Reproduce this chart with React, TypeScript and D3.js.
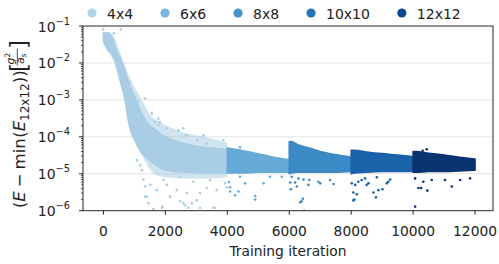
import * as d3 from "d3";
import { useEffect, useRef } from "react";

// grid sizes in the legend, one colour per run
const labels = ["4x4", "6x6", "8x8", "10x10", "12x12"];
const colors = ["#a9cde4", "#68aad7", "#3b89c5", "#1a62a9", "#093472"];
const legendColors = ["#b2d3e8", "#7ab6dd", "#4796ca", "#2473b6", "#0d4a90"];

const xTicks = [0, 2000, 4000, 6000, 8000, 10000, 12000];
const yTicks = [1e-1, 1e-2, 1e-3, 1e-4, 1e-5, 1e-6];
const yTickExp = ["−1", "−2", "−3", "−4", "−5", "−6"];

// dense core of each run: iteration, lower and upper edge of the cloud
const iter4 = [0, 150, 300, 410, 540, 600, 700, 800, 900, 1050, 1200, 1400, 1700, 2000, 2500, 3000, 3500, 4000];
const lo4 = [4.0e-2, 2.2e-2, 1.6e-2, 1.0e-2, 3.5e-3, 2.2e-3, 1.0e-3, 2.8e-4, 1.3e-4, 7e-5, 4e-5, 2.7e-5, 1.7e-5, 1.25e-5, 1.12e-5, 1.07e-5, 1.05e-5, 1.05e-5];
const hi4 = [6.5e-2, 6.5e-2, 4.5e-2, 2.2e-2, 1.4e-2, 1.0e-2, 6e-3, 3.2e-3, 2.0e-3, 1.0e-3, 5e-4, 2.5e-4, 1.5e-4, 1.0e-4, 7e-5, 5.5e-5, 5e-5, 4.5e-5];

// thinner cloud of 4x4 points around the core
const iter4Halo = [0, 300, 600, 900, 1100, 1300, 1500, 1800, 2500, 3000, 3500, 4000];
const lo4Halo = [3e-2, 1.2e-2, 1.8e-3, 1.6e-4, 6e-5, 2.6e-5, 1.3e-5, 8.5e-6, 7.5e-6, 7.5e-6, 7.5e-6, 8e-6];
const hi4Halo = [7e-2, 5.5e-2, 1.4e-2, 3.2e-3, 1.6e-3, 8e-4, 4e-4, 2.6e-4, 1.4e-4, 1.1e-4, 9e-5, 7e-5];

const iter6 = [4000, 4100, 4500, 5000, 5500, 6000];
const lo6 = [1.05e-5, 1.05e-5, 1.05e-5, 1.1e-5, 1.1e-5, 1.1e-5];
const hi6 = [5e-5, 4.8e-5, 4.2e-5, 3.5e-5, 2.8e-5, 2.4e-5];

const iter8 = [6000, 6050, 6300, 6700, 7000, 7500, 8000];
const lo8 = [1.0e-5, 1.05e-5, 1.1e-5, 1.1e-5, 1.1e-5, 1.1e-5, 1.15e-5];
const hi8 = [7.5e-5, 7.5e-5, 6e-5, 4.8e-5, 4e-5, 3.3e-5, 2.8e-5];

const iter10 = [8000, 8100, 8500, 9000, 9500, 10000];
const lo10 = [1.0e-5, 1.05e-5, 1.1e-5, 1.15e-5, 1.15e-5, 1.15e-5];
const hi10 = [4.3e-5, 4.3e-5, 3.9e-5, 3.5e-5, 3.2e-5, 2.9e-5];

const iter12 = [10000, 10100, 10500, 11000, 11500, 12000];
const lo12 = [1.1e-5, 1.1e-5, 1.15e-5, 1.15e-5, 1.2e-5, 1.25e-5];
const hi12 = [4.0e-5, 4.0e-5, 3.6e-5, 3.2e-5, 2.8e-5, 2.5e-5];

// scattered points outside the dense bands: [iteration, value]
const out4 = [
  [-10, 8.1e-2], [335, 6.3e-2], [560, 8.1e-2], [850, 3.1e-3], [1340, 1.1e-3], [1120, 8.9e-4],
  [1660, 2.5e-4], [1820, 2.5e-4], [2035, 1.7e-4], [2575, 1.7e-4], [1560, 4.3e-4], [2420, 1.5e-4],
  [2690, 1.1e-4], [3230, 1.1e-4], [3015, 8.2e-5], [3340, 6.7e-5], [3875, 8.2e-5], [1775, 2.1e-4],
  [1775, 3.1e-4], [2315, 7.4e-5], [2855, 5.4e-5],
  [1615, 1.1e-6], [1905, 1.3e-6], [1453, 1.6e-6], [1400, 2.4e-6], [1290, 7.0e-6], [1345, 4.5e-6],
  [1510, 5.0e-6], [1720, 3.6e-6], [2050, 5.0e-6], [2150, 2.4e-6], [2370, 3.6e-6], [2580, 1.6e-6],
  [2745, 1.2e-6], [2855, 1.6e-6], [3015, 1.9e-6], [3120, 3.0e-6], [2690, 3.0e-6], [3340, 4.1e-6],
  [3605, 1.2e-6], [3660, 3.6e-6], [3445, 6.8e-6], [2905, 6.1e-6], [2475, 8.3e-6], [1940, 6.8e-6],
  [1080, 2.3e-5], [1185, 1.7e-5], [1240, 1.25e-5], [3930, 5.5e-6], [3985, 4.3e-6], [1345, 2.4e-6],
  [2475, 1.8e-6], [2640, 1.4e-6], [3120, 1.2e-6], [3550, 1.2e-6], [1885, 1.2e-6],
];
const out6 = [
  [4090, 3.3e-6], [4250, 2.6e-6], [4360, 3.3e-6], [4900, 2.5e-6], [4900, 2.0e-6], [4575, 5.5e-6],
  [5170, 5.5e-6], [5380, 8.3e-6], [5760, 8.3e-6], [4410, 8.3e-6], [4410, 5.2e-5], [4090, 4.3e-6],
  [4050, 6e-6],
];
const out8 = [
  [6480, 1.0e-6], [6350, 1.7e-6], [6440, 2.1e-6], [6050, 3.8e-6], [6245, 4.5e-6], [6190, 5.8e-6],
  [6030, 5.8e-6], [6620, 5.0e-6], [6650, 6.8e-6], [6460, 7.0e-6], [7000, 5.5e-6], [7430, 5.3e-6],
  [7320, 6.8e-6], [6080, 8.3e-6], [6400, 1.8e-6], [6300, 7.5e-6], [6940, 6.1e-6],
];
const out10 = [
  [8100, 2.0e-6], [8180, 2.8e-6], [8070, 3.1e-6], [8020, 5.5e-6], [8130, 5.0e-6], [8230, 6.1e-6],
  [8340, 6.8e-6], [8720, 3.1e-6], [8800, 2.3e-6], [8880, 3.6e-6], [9010, 3.8e-6], [8560, 5.5e-6],
  [9150, 5.5e-6], [9260, 7.0e-6], [8450, 7.5e-6], [8830, 8.0e-6], [8070, 1.9e-6], [9200, 6.1e-6],
  [8500, 5.0e-6],
];
const out12 = [
  [10065, 1.29e-6], [10460, 3.5e-6], [10170, 4.1e-6], [10260, 4.1e-6], [10330, 6.1e-6], [10600, 6.8e-6],
  [11250, 4.5e-6], [11030, 6.8e-6], [11520, 6.8e-6], [11840, 7.5e-6], [10065, 7.5e-6], [10440, 4.6e-5],
  [10310, 4.2e-5],
];

const FONT = "'DejaVu Sans', sans-serif";

const App = () => {
  const svgRef = useRef<SVGSVGElement>(null);

  useEffect(() => {
    const svg = d3.select(svgRef.current);
    svg.selectAll("*").remove();

    const W = 499;
    const H = 264;
    const margin = { top: 26, right: 6, bottom: 53.3, left: 83 };
    const x = d3.scaleLinear().domain([-660, 12580]).range([margin.left, W - margin.right]);
    const y = d3.scaleLog().domain([1e-6, 1e-1]).range([H - margin.bottom, margin.top]);
    const [x0, x1] = x.range();
    const [y0, y1] = y.range();

    const runs = [
      { iter: iter4, lo: lo4, hi: hi4, out: out4 },
      { iter: iter6, lo: lo6, hi: hi6, out: out6 },
      { iter: iter8, lo: lo8, hi: hi8, out: out8 },
      { iter: iter10, lo: lo10, hi: hi10, out: out10 },
      { iter: iter12, lo: lo12, hi: hi12, out: out12 },
    ];

    svg.append("defs").append("clipPath").attr("id", "plot-clip")
      .append("rect").attr("x", x0).attr("y", y1).attr("width", x1 - x0).attr("height", y0 - y1);

    // gridlines at the decades
    svg.append("g").selectAll("line").data(yTicks.slice(1, -1)).enter().append("line")
      .attr("x1", x0).attr("x2", x1)
      .attr("y1", (d) => y(d)).attr("y2", (d) => y(d))
      .attr("stroke", "#e3e3e3").attr("stroke-width", 1);

    const marks = svg.append("g").attr("clip-path", "url(#plot-clip)");

    const bandPath = (it: number[], lo: number[], hi: number[]) =>
      d3.area<number>()
        .x((i) => x(it[i]))
        .y0((i) => y(lo[i]))
        .y1((i) => y(hi[i]))
        .curve(d3.curveMonotoneX)(d3.range(it.length));

    marks.append("path")
      .attr("d", bandPath(iter4Halo, lo4Halo, hi4Halo))
      .attr("fill", colors[0])
      .attr("opacity", 0.55);

    runs.forEach((run, k) => {
      marks.append("path")
        .attr("d", bandPath(run.iter, run.lo, run.hi))
        .attr("fill", colors[k])
        .attr("stroke", colors[k])
        .attr("stroke-width", 1.6)
        .attr("stroke-linejoin", "round");

      marks.append("g").selectAll("circle").data(run.out).enter().append("circle")
        .attr("cx", (d) => x(d[0]))
        .attr("cy", (d) => y(d[1]))
        .attr("r", 1.3)
        .attr("fill", colors[k]);
    });

    // frame
    svg.append("rect")
      .attr("x", x0).attr("y", y1).attr("width", x1 - x0).attr("height", y0 - y1)
      .attr("fill", "none").attr("stroke", "#262626").attr("stroke-width", 1);

    // x axis
    const gx = svg.append("g");
    gx.selectAll("line").data(xTicks).enter().append("line")
      .attr("x1", (d) => x(d)).attr("x2", (d) => x(d))
      .attr("y1", y0).attr("y2", y0 + 4)
      .attr("stroke", "#262626");
    gx.selectAll("text").data(xTicks).enter().append("text")
      .attr("x", (d) => x(d)).attr("y", y0 + 25.5)
      .attr("text-anchor", "middle")
      .style("font-family", FONT).style("font-size", "13.8px").attr("fill", "#222")
      .text((d) => `${d}`);
    svg.append("text")
      .attr("x", (x0 + x1) / 2).attr("y", 256)
      .attr("text-anchor", "middle")
      .style("font-family", FONT).style("font-size", "13.8px").attr("fill", "#222")
      .text("Training iteration");

    // y axis, major and minor ticks
    const gy = svg.append("g");
    const minor: number[] = [];
    for (let e = -6; e < -1; e++) for (let m = 2; m <= 9; m++) minor.push(m * Math.pow(10, e));
    gy.selectAll("line.minor").data(minor).enter().append("line")
      .attr("class", "minor")
      .attr("x1", x0 - 2).attr("x2", x0)
      .attr("y1", (d) => y(d)).attr("y2", (d) => y(d))
      .attr("stroke", "#262626").attr("stroke-width", 0.8);
    gy.selectAll("line.major").data(yTicks).enter().append("line")
      .attr("class", "major")
      .attr("x1", x0 - 4).attr("x2", x0)
      .attr("y1", (d) => y(d)).attr("y2", (d) => y(d))
      .attr("stroke", "#262626");
    const lab = gy.selectAll("text").data(yTicks).enter().append("text")
      .attr("x", 70).attr("y", (d) => y(d) + 5.5)
      .attr("text-anchor", "end")
      .style("font-family", FONT).style("font-size", "14px").attr("fill", "#222");
    lab.append("tspan").text("10");
    lab.append("tspan").attr("dy", -7).style("font-size", "9.8px").text((d, i) => yTickExp[i]);

    // y label, rotated: main text flows, bracketed unit fraction follows it
    const yl = svg.append("g").style("font-family", FONT).attr("fill", "#222");
    const main = yl.append("text").attr("x", 0).attr("y", 0).style("font-size", "16.5px");
    main.append("tspan").text("(");
    main.append("tspan").style("font-style", "italic").text("E");
    main.append("tspan").attr("dx", 4).text("−");
    main.append("tspan").attr("dx", 4).text("min");
    main.append("tspan").attr("dx", 0.5).text("(");
    main.append("tspan").style("font-style", "italic").text("E");
    main.append("tspan").attr("dy", 3.6).style("font-size", "12px").text("12x12");
    main.append("tspan").attr("dy", -3.6).text("))");
    const len = (main.node() as SVGTextElement).getComputedTextLength();
    const piece = (px: number, py: number, txt: string, size: number, italic = false) =>
      yl.append("text").attr("x", px).attr("y", py)
        .style("font-size", `${size}px`)
        .style("font-style", italic ? "italic" : "normal")
        .text(txt);
    const b = len + 7;
    piece(b, 1.5, "[", 23);
    piece(b + 7.5, -10.8, "g", 11, true);
    piece(b + 14.5, -15, "2", 7.5);
    yl.append("line").attr("x1", b + 6.5).attr("x2", b + 23.5).attr("y1", -7.7).attr("y2", -7.7)
      .attr("stroke", "#222").attr("stroke-width", 0.8);
    piece(b + 8, -1, "a", 11, true);
    piece(b + 14.5, 1, "s", 7.5, true);
    piece(b + 23, 1.5, "]", 23);
    const total = b + 27;
    yl.attr("transform", `translate(25,${126.5 + total / 2}) rotate(-90)`);

    // legend
    const lg = svg.append("g");
    let lx = 92;
    labels.forEach((name, k) => {
      lg.append("circle").attr("cx", lx).attr("cy", 13).attr("r", 4.6).attr("fill", legendColors[k]);
      const t = lg.append("text").attr("x", lx + 15).attr("y", 18.5)
        .style("font-family", FONT).style("font-size", "14px").attr("fill", "#222")
        .text(name);
      const w = (t.node() as SVGTextElement).getComputedTextLength();
      lx = lx + 15 + w + 31.9;
    });
  }, []);

  return (
    <svg
      ref={svgRef}
      width={499}
      height={264}
      style={{ position: "absolute", left: 0, top: 0, background: "#fff" }}
    ></svg>
  );
};

export default App;
